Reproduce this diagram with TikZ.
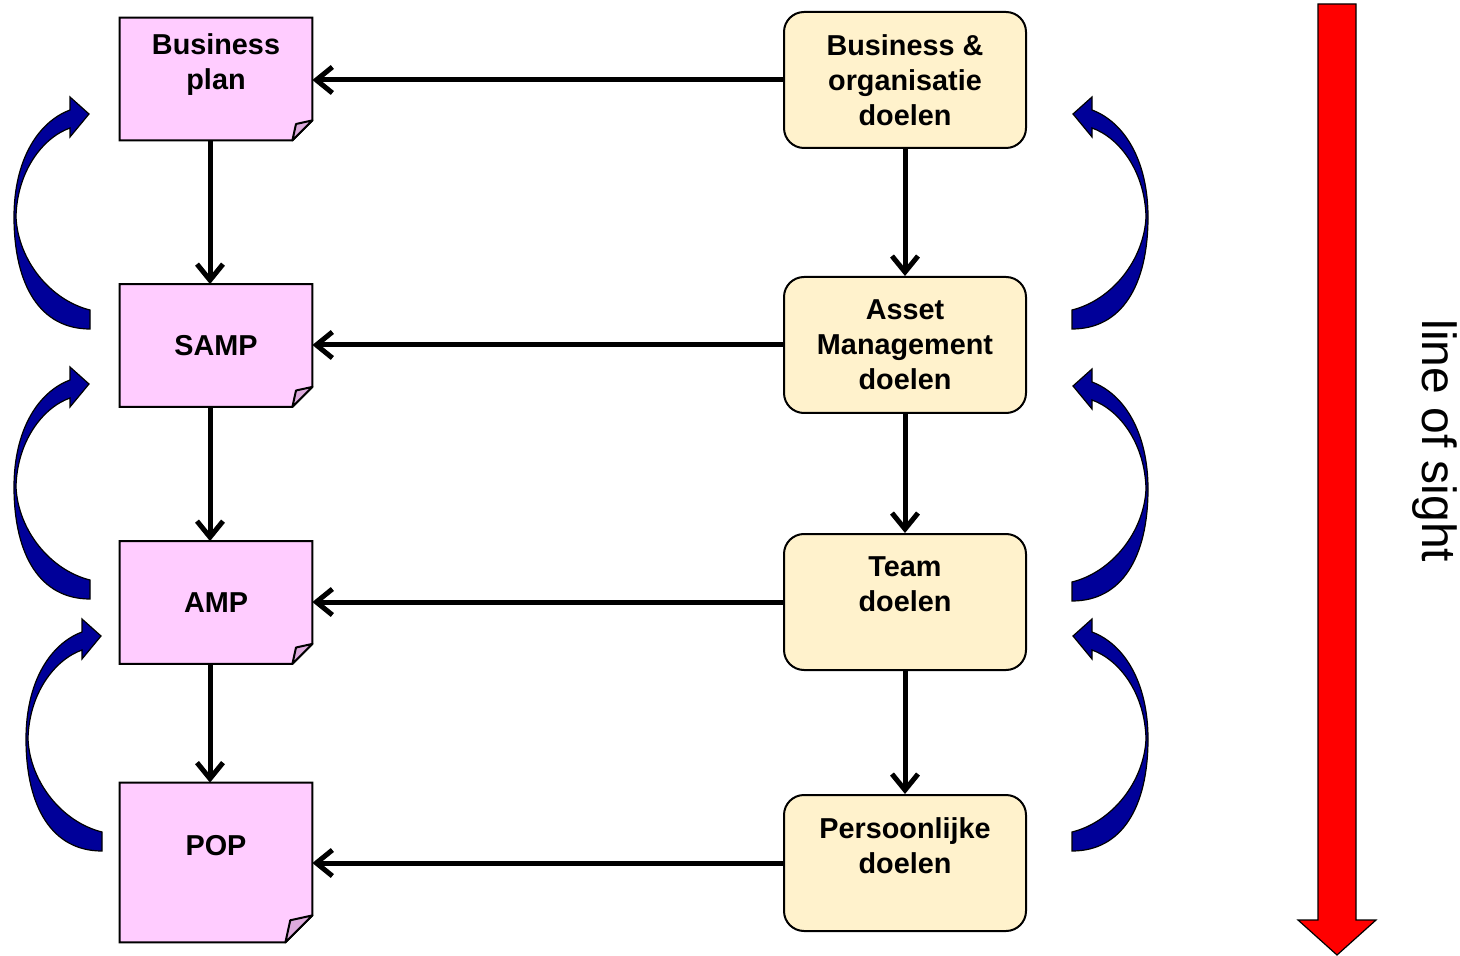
\documentclass[tikz,border=0pt]{standalone}
\usepackage{fontspec}
\setmainfont{Liberation Sans}
\usetikzlibrary{arrows.meta,backgrounds}

\definecolor{notepink}{HTML}{FFCCFF}
\definecolor{notefold}{HTML}{DDAADD}
\definecolor{goalyellow}{HTML}{FFF2CC}
\definecolor{curlblue}{HTML}{000099}

\tikzset{
  note/.style={minimum width=96pt, minimum height=61pt, inner sep=0pt,
    align=center, font=\bfseries\fontsize{14.4}{17.5}\selectfont},
  goal/.style={draw, line width=1pt, fill=goalyellow, rounded corners=10pt,
    minimum width=121pt, minimum height=68pt, inner sep=0pt,
    align=center, font=\bfseries\fontsize{14.4}{17.5}\selectfont},
  conn/.style={line width=2.5pt, -{Straight Barb[length=8pt,width=13pt]}},
  curl/.style={fill=curlblue, draw=black, line width=0.6pt},
}

% sheet with a turned-up corner behind a note node
\newcommand\notesheet[2]{%
  \filldraw[fill=notepink, line width=1pt] (#1.north west) -- (#1.north east)
    -- ([yshift=#2]#1.south east) -- ([xshift=-#2]#1.south east)
    -- (#1.south west) -- cycle;
  \filldraw[fill=notefold, line width=1pt, line join=round] ([yshift=#2]#1.south east)
    -- ([xshift=-0.82*#2, yshift=0.82*#2]#1.south east)
    -- ([xshift=-#2]#1.south east) -- cycle;
}

\begin{document}
\begin{tikzpicture}[x=0.5pt, y=-0.5pt]
    \useasboundingbox (0,0) rectangle (1460,956);

    % plans
    \node [note] (bp) at (216,79) {Business\\plan\\~};
    \node [note] (samp) at (216,345.5) {SAMP};
    \node [note] (amp) at (216,602.5) {AMP};
    \node [note, minimum height=79.5pt] (pop) at (216,862.5) {POP\\~};

    \begin{scope}[on background layer]
      \notesheet{bp}{10pt}
      \notesheet{samp}{10pt}
      \notesheet{amp}{10pt}
      \notesheet{pop}{13.5pt}
    \end{scope}

    % goals
    \node [goal] (bog) at (905,80) {Business \&\\organisatie\\doelen};
    \node [goal] (amd) at (905,345) {Asset\\Management\\doelen};
    \node [goal] (td) at (905,602) {Team\\doelen\\~};
    \node [goal] (pd) at (905,863) {Persoonlijke\\doelen\\~};

    \draw [conn] (bog.west) -- (bog.west -| bp.east);
    \draw [conn] (amd.west) -- (amd.west -| samp.east);
    \draw [conn] (td.west) -- (td.west -| amp.east);
    \draw [conn] (pd.west) -- (pd.west -| pop.east);

    \draw [conn] ([xshift=-3pt]bp.south) -- ([xshift=-3pt]samp.north);
    \draw [conn] ([xshift=-3pt]samp.south) -- ([xshift=-3pt]amp.north);
    \draw [conn] ([xshift=-3pt]amp.south) -- ([xshift=-3pt]pop.north);

    \draw [conn] (bog.south) -- (amd.north);
    \draw [conn] (amd.south) -- (td.north);
    \draw [conn] (td.south) -- (pd.north);

    % feedback curls
    \foreach \sx/\dx/\dy in {1/0/0, 1/0/270, 1/12/522, -1/1162/0, -1/1162/272, -1/1162/522} {
      \filldraw [curl, shift={(\dx,\dy)}, xscale=\sx]
        (90,329) .. controls (40,329) and (14,285) .. (14,217)
        .. controls (14,160) and (38,122) .. (70,110)
        -- (70,97) -- (89,114) -- (70,137) -- (70,128)
        .. controls (42,138) and (17,172) .. (16,217)
        .. controls (18,260) and (50,300) .. (90,310) -- cycle;
    }

    % line of sight
    \filldraw [fill=red, line width=0.6pt] (1318,4) -- (1356,4) -- (1356,920)
      -- (1376,920) -- (1337,955) -- (1298,920) -- (1318,920) -- cycle;
    \node [rotate=-90, font=\fontsize{24}{28}\selectfont] (los) at (1435,441) {line of sight};
\end{tikzpicture}
\end{document}
